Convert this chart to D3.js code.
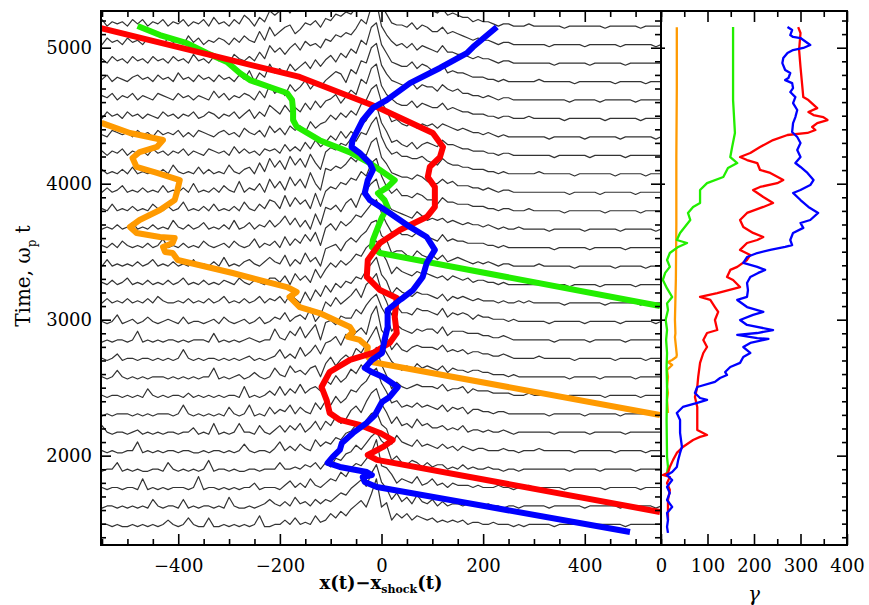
<!DOCTYPE html>
<html><head><meta charset="utf-8">
<script src="https://cdn.jsdelivr.net/npm/d3@7"></script>
<style>body{margin:0;background:#fff}svg{display:block}</style>
</head><body>
<svg id="c" width="869" height="605"></svg>
<script>
// ---------- DATA ----------
// stacked density traces: baseline time of each trace (bottom -> top)
const traceTimes = [1478,1614,1750,1885,2021,2157,2292,2428,2564,2700,2835,2971,3107,3242,3378,3514,3650,3785,3921,4057,4192,4328,4464,4600,4735,4871,5007,5143];
// trace grid: x = traceX0 + i*traceDx ; each char = amplitude (base-36 digit)
const traceX0 = -560, traceDx = 10;
const traceProfiles = [
 "01101 00101 01013 10141 00400 10101 01500 11314 12152 36475 8ac9f m9 b364 6354 34232 32312 21121 11010 11111 01111 11011 11110 11111 11",
 "10110 10101 04101 10401 01101 05100 10124 21315 23142 43576 9bdag kc 9473 5263 24131 22121 11211 01101 11110 11111 10111 11101 11111 01",
 "01011 01105 01010 11101 60110 10101 13011 10241 31521 35486 acbeh nb a735 4362 35231 32221 21112 11011 21111 11011 11111 01111 11011 11",
 "10114 01010 01104 10101 01501 10100 11011 14112 13241 42658 9cadg ie c574 3542 42331 21312 11211 01101 11111 11101 11110 11111 10111 11",
 "11010 01150 10101 10110 01011 01014 10110 25131 42163 54769 adbfi jd b485 4363 43242 31321 22111 21101 11211 11110 11111 11011 11101 11",
 "14101 10120 10101 10113 01050 10151 10410 24142 51362 64857 bdafj le a584 5374 53342 32412 21211 21011 11111 01111 11011 11110 11111 11",
 "10101 11010 10111 01510 10101 04101 50104 13251 42163 75968 cbegk mf b674 5464 54352 43413 32212 21111 11110 11111 10111 11101 11111 01",
 "31011 01010 41010 11020 10101 01105 01013 15142 62453 86a79 dbfcj nf a475 4565 55463 44524 33322 22111 21111 11011 11111 01111 11011 11",
 "01014 10101 01110 10101 01150 10120 13101 52163 42561 7a69b 9ecgk og c864 6475 65463 54434 43322 21211 11111 11101 11110 11111 10111 11",
 "01013 01101 10101 01510 10110 10101 20101 25131 62473 89b7c adfcl pe b585 4676 66574 54534 43322 32111 11211 11110 11111 11011 11101 11",
 "10101 10150 10101 10101 11040 10101 21011 62153 72581 9a8cb bfdhk mg c586 5465 66473 55544 43322 32111 11111 01111 11011 11110 11111 11",
 "11014 01201 31012 10301 10120 31012 01301 32513 42714 a8c9b dgcik nf a485 5476 65473 54542 43322 21211 11110 11111 10111 11101 11111 01",
 "21312 13121 31421 12131 21312 41213 12413 24153 16274 96a8b adcgj me b586 5465 54352 43432 32221 21121 21111 11011 11111 01111 11011 11",
 "12131 24121 31213 12412 13121 32142 13214 42516 35284 8b9ca cfeik lg c697 6576 65453 54342 33221 21111 11111 11101 11110 11111 10111 11",
 "21412 12131 24121 31214 12131 51213 42135 32614 27351 9ab8c ecfhl mf d788 6586 56463 45432 32321 22111 11211 11110 11111 11011 11101 11",
 "12131 42121 31251 21312 14212 31421 25132 41625 37482 ac9db dgfil nh c897 7687 65474 54433 33221 21111 11111 01111 11011 11110 11111 11",
 "31213 12412 13121 52131 24121 31512 41325 24736 25183 bac9d fbhjm og da98 7697 56564 54343 32321 21121 11110 11111 10111 11101 11111 01",
 "12141 21312 14213 12512 13141 21315 21426 52837 46293 acbed gfjhn ph c9b8 8798 66475 54443 33221 22111 21111 11011 11111 01111 11011 11",
 "21312 41213 12141 21315 12131 42161 32517 36284 73a52 cbdce hfjio qh ea98 8798 65575 64443 32321 22111 11111 11101 11110 11111 10111 11",
 "13121 31412 12131 52121 41312 15213 41628 47395 84a63 bdcfe hgkjo ri dab9 9889 76586 55443 33221 21111 11211 11110 11111 11011 11101 11",
 "23132 41323 14231 32413 21432 31524 23143 42635 37485 7a8c9 cafhm og c786 5746 76586 65443 33221 22111 11111 01111 11011 11110 11111 11",
 "32143 23142 31423 24131 43213 42315 32416 35264 63857 8b9ca dbgin ph d897 6857 67576 54543 32321 21111 11110 11111 10111 11101 11111 01",
 "21423 14231 32142 31324 12431 32413 51427 53746 48596 9ac8b ecjho qg ca87 7968 76685 65443 33221 22111 21111 11011 11111 01111 11011 11",
 "13241 32413 21432 14231 32152 41324 31528 46385 7a697 aced9 fdjip rh da98 7968 77586 56443 32321 22111 11111 11101 11110 11111 10111 11",
 "32413 21342 31423 15231 42314 23142 61539 57496 8a7b8 bdaec gekiq si ea98 8a79 86695 65543 33221 21111 11211 11110 11111 11011 11101 11",
 "23142 31423 14231 42315 23142 41532 42639 6858a 7b9a8 cbedf ehljr ti eb9a 8a79 87696 65543 43321 22111 11111 01111 11011 11110 11111 11",
 "31423 14231 42314 23152 41324 31425 32739 579a6 8bac9 dcfeg fimks uj fbaa 9b8a 97796 76543 43321 22111 11110 11111 10111 11101 11111 01",
 "24132 31424 13241 32413 24152 31426 41538 68a7b 9cabd edgfh gjnlt vk fcba 9b8a 98796 76553 43321 22111 21111 11011 11111 01111 11011 11"
];

// particle trajectories [x - x_shock, time]
const orangePath = [[-551,4447],[-495,4373],[-430,4321],[-442,4270],[-476,4233],[-490,4189],[-482,4123],[-442,4079],[-397,4027],[-403,3932],[-407,3880],[-436,3807],[-476,3733],[-495,3682],[-482,3638],[-436,3608],[-407,3601],[-411,3564],[-430,3535],[-426,3498],[-411,3490],[-401,3439],[-293,3343],[-186,3240],[-167,3204],[-181,3167],[-161,3093],[-122,3049],[-62,2946],[-56,2910],[-66,2873],[-43,2851],[-27,2799],[-29,2741],[-19,2689],[548,2299]];
const greenPath = [[-480,5160],[-436,5093],[-383,5034],[-344,4961],[-304,4895],[-279,4814],[-259,4762],[-220,4711],[-186,4667],[-176,4615],[-174,4542],[-174,4468],[-167,4420],[-122,4320],[-63,4232],[-23,4151],[-3,4100],[26,4026],[12,3975],[-7,3930],[6,3879],[12,3828],[1,3754],[-7,3680],[-17,3585],[-19,3534],[-3,3490],[548,3101]];
const redPath = [[-552,5143],[-161,4785],[-9,4564],[101,4373],[121,4270],[115,4196],[95,4123],[91,4049],[105,3976],[105,3829],[89,3755],[36,3660],[-3,3564],[-27,3439],[-29,3314],[-3,3218],[30,3160],[26,3020],[30,2902],[16,2829],[-17,2755],[-62,2704],[-102,2615],[-118,2505],[-108,2409],[-102,2314],[-82,2263],[-43,2226],[-3,2167],[22,2115],[3,2064],[-27,2005],[-9,1969],[548,1586]];
const bluePath = [[227,5152],[180,5005],[168,4961],[115,4851],[56,4740],[10,4615],[-17,4557],[-37,4468],[-57,4321],[-59,4270],[-43,4226],[-23,4152],[-17,4101],[-27,4027],[-33,3932],[-23,3880],[16,3785],[56,3682],[89,3608],[105,3513],[89,3417],[81,3314],[62,3218],[42,3160],[36,3145],[12,3071],[12,2946],[6,2851],[1,2755],[-19,2704],[-33,2645],[-19,2615],[3,2579],[32,2505],[16,2432],[1,2395],[-13,2299],[-29,2241],[-56,2167],[-78,2093],[-82,2042],[-96,1991],[-106,1947],[-82,1917],[-29,1880],[-19,1858],[-37,1843],[-33,1807],[-9,1770],[489,1439]];

// Lorentz factor histories [gamma, time]
const orangeGamma = [[34,5150],[34,4700],[33,4200],[33,3700],[32,3300],[30,3000],[31,2900],[30,2872],[34,2740],[33,2725],[24,2704],[15,2689],[24,2667],[13,2630],[15,2579],[13,2505],[15,2461],[13,2410],[15,2314]];
const greenGamma = [[155,5152],[155,4615],[159,4373],[153,4270],[149,4196],[164,4152],[144,4115],[134,4049],[99,4004],[84,3954],[84,3858],[69,3829],[58,3785],[63,3733],[41,3638],[34,3586],[56,3564],[37,3535],[19,3490],[13,3439],[19,3388],[9,3344],[4,3292],[13,3230],[24,3167],[13,3120],[15,3071],[10,3000],[13,2924],[11,2851],[13,2755],[12,2652],[13,2500],[12,2262],[13,1990],[15,1917],[13,1873]];
const redGamma = [[295,5152],[300,5108],[297,4983],[300,4858],[304,4711],[306,4637],[317,4615],[336,4556],[317,4527],[328,4505],[349,4490],[358,4468],[336,4446],[325,4417],[332,4395],[315,4373],[272,4358],[241,4321],[213,4270],[192,4226],[170,4196],[185,4174],[207,4152],[213,4101],[235,4079],[263,4027],[250,4004],[213,3976],[198,3954],[220,3902],[241,3858],[220,3829],[185,3785],[170,3733],[177,3682],[198,3638],[220,3608],[207,3586],[185,3564],[170,3513],[192,3476],[185,3439],[164,3388],[149,3366],[142,3314],[155,3292],[170,3240],[121,3196],[84,3167],[106,3145],[116,3093],[123,3057],[116,2998],[121,2924],[99,2902],[91,2851],[99,2799],[91,2755],[84,2682],[80,2579],[78,2505],[73,2432],[78,2358],[78,2241],[78,2189],[99,2152],[84,2138],[69,2115],[47,2064],[34,2020],[26,1969],[19,1917],[15,1873],[4,1858],[19,1843],[13,1799],[19,1748],[15,1674],[15,1579],[15,1527]];
const blueGamma = [[272,5152],[282,5130],[278,5093],[284,5079],[300,5071],[321,5020],[306,4998],[284,4983],[272,4961],[263,4924],[261,4887],[267,4836],[278,4814],[274,4777],[267,4762],[282,4740],[284,4703],[278,4674],[289,4637],[284,4593],[293,4542],[289,4490],[284,4446],[282,4380],[293,4343],[300,4299],[293,4248],[300,4196],[289,4152],[300,4123],[315,4079],[328,4027],[321,3990],[300,3954],[284,3932],[300,3880],[317,3829],[338,3785],[321,3733],[300,3711],[306,3675],[284,3638],[278,3586],[282,3549],[267,3535],[235,3513],[207,3490],[185,3461],[177,3417],[207,3388],[224,3366],[209,3344],[192,3314],[185,3270],[187,3218],[185,3167],[164,3145],[185,3093],[220,3057],[198,3035],[170,2998],[185,2961],[241,2924],[207,2902],[164,2888],[207,2865],[231,2858],[192,2829],[177,2799],[192,2755],[177,2726],[170,2682],[149,2652],[138,2615],[142,2593],[127,2571],[116,2542],[78,2505],[73,2461],[84,2424],[99,2410],[78,2388],[47,2358],[34,2314],[41,2262],[41,2167],[45,2064],[41,2020],[37,1969],[34,1917],[24,1880],[13,1858],[24,1821],[13,1770],[19,1726],[13,1674],[24,1623],[13,1579],[15,1527],[13,1476],[15,1432]];

// axis ticks
const timeTicks = [2000,3000,4000,5000];
const xTicks = [-400,-200,0,200,400];
const gammaTicks = [0,100,200,300,400];

// ---------- DRAW ----------
const svg = d3.select('#c');
const x = d3.scaleLinear().domain([-552,550]).range([101,661]);
const g = d3.scaleLinear().domain([0,400]).range([661,847]);
const y = d3.scaleLinear().domain([1343,5270]).range([545,11]);
const FONT = "'DejaVu Serif', 'Liberation Serif', serif";

const defs = svg.append('defs');
defs.append('clipPath').attr('id','clipL').append('rect').attr('x',101).attr('y',11).attr('width',560).attr('height',534);
defs.append('clipPath').attr('id','clipR').append('rect').attr('x',661).attr('y',11).attr('width',186).attr('height',534);

const left = svg.append('g').attr('clip-path','url(#clipL)');
const right = svg.append('g').attr('clip-path','url(#clipR)');

const ampUnit = 16;
const tl = d3.line().x(d=>x(d[0])).y(d=>y(d[1]));
traceProfiles.forEach((s,k)=>{
  const vals = s.replace(/\s/g,'').split('').map(c=>parseInt(c,36));
  const pts = vals.map((v,i)=>[traceX0+i*traceDx, traceTimes[k]+v*ampUnit]);
  left.append('path').attr('d',tl(pts)).attr('fill','none')
    .attr('stroke','#333').attr('stroke-width',1.2).attr('stroke-linejoin','round');
});

const pl = d3.line().x(d=>x(d[0])).y(d=>y(d[1]));
[[orangePath,'#ff9a00'],[greenPath,'#22ee00'],[redPath,'#ff0000'],[bluePath,'#0000ff']].forEach(([p,c])=>{
  left.append('path').attr('d',pl(p)).attr('fill','none').attr('stroke',c)
    .attr('stroke-width',6).attr('stroke-linejoin','round');
});

const gl = d3.line().x(d=>g(d[0])).y(d=>y(d[1]));
[[orangeGamma,'#ff9a00'],[greenGamma,'#22ee00'],[redGamma,'#ff0000'],[blueGamma,'#0000ff']].forEach(([p,c])=>{
  right.append('path').attr('d',gl(p)).attr('fill','none').attr('stroke',c)
    .attr('stroke-width',2.3).attr('stroke-linejoin','round');
});

// frames
svg.append('rect').attr('x',101).attr('y',11).attr('width',560).attr('height',534)
  .attr('fill','none').attr('stroke','#000').attr('stroke-width',2);
svg.append('rect').attr('x',661).attr('y',11).attr('width',186).attr('height',534)
  .attr('fill','none').attr('stroke','#000').attr('stroke-width',2);

const fmt = d3.format('d');
function axis(gen, vals, size, tr, labels, pad){
  const a = gen.tickValues(vals).tickSize(size).tickPadding(pad||8);
  a.tickFormat(labels ? fmt : '');
  const gg = svg.append('g').attr('transform',tr).call(a);
  gg.select('.domain').remove();
  gg.selectAll('line').attr('stroke','#000').attr('stroke-width',1.6);
  gg.selectAll('text').attr('fill','#000').style('font-family',FONT).style('font-size','18px');
  return gg;
}
const minorT = d3.range(1400,5300,100).filter(v=>v%1000!==0);
const minorX = d3.range(-550,551,50).filter(v=>v%200!==0);
const minorG = [50,150,250,350];

// left panel
axis(d3.axisLeft(y), timeTicks, -10, 'translate(101,0)', true, 9);
axis(d3.axisLeft(y), minorT, -5, 'translate(101,0)', false);
axis(d3.axisRight(y), timeTicks, -10, 'translate(661,0)', false);
axis(d3.axisRight(y), minorT, -6, 'translate(661,0)', false);
axis(d3.axisBottom(x), xTicks, -11, 'translate(0,545)', true, 14);
axis(d3.axisBottom(x), minorX, -6, 'translate(0,545)', false);
axis(d3.axisTop(x), xTicks, -11, 'translate(0,11)', false);
axis(d3.axisTop(x), minorX, -6, 'translate(0,11)', false);
// right panel
axis(d3.axisLeft(y), timeTicks, -4, 'translate(661,0)', false);
axis(d3.axisRight(y), timeTicks, -10, 'translate(847,0)', false);
axis(d3.axisRight(y), minorT, -5, 'translate(847,0)', false);
axis(d3.axisBottom(g), gammaTicks, -11, 'translate(0,545)', true, 14);
axis(d3.axisBottom(g), minorG, -6, 'translate(0,545)', false);
axis(d3.axisTop(g), gammaTicks, -11, 'translate(0,11)', false);
axis(d3.axisTop(g), minorG, -6, 'translate(0,11)', false);

// titles
const yt = svg.append('text').attr('transform','translate(30,276) rotate(-90)')
  .attr('text-anchor','middle').style('font-family',FONT).style('font-size','20px').attr('fill','#000');
yt.append('tspan').text('Time, ω');
yt.append('tspan').text('p').attr('dy',6).style('font-size','12px');
yt.append('tspan').text(' t').attr('dy',-6);

const xt = svg.append('text').attr('x',381).attr('y',589).attr('text-anchor','middle')
  .style('font-family',FONT).style('font-size','18px').style('font-weight','bold').attr('fill','#000');
xt.append('tspan').text('x(t)−x');
xt.append('tspan').text('shock').attr('dy',4).style('font-size','11px');
xt.append('tspan').text('(t)').attr('dy',-4);

svg.append('text').attr('x',754).attr('y',601).attr('text-anchor','middle')
  .style('font-family',FONT).style('font-size','20px').style('font-style','italic').attr('fill','#000').text('γ');
</script>
</body></html>
